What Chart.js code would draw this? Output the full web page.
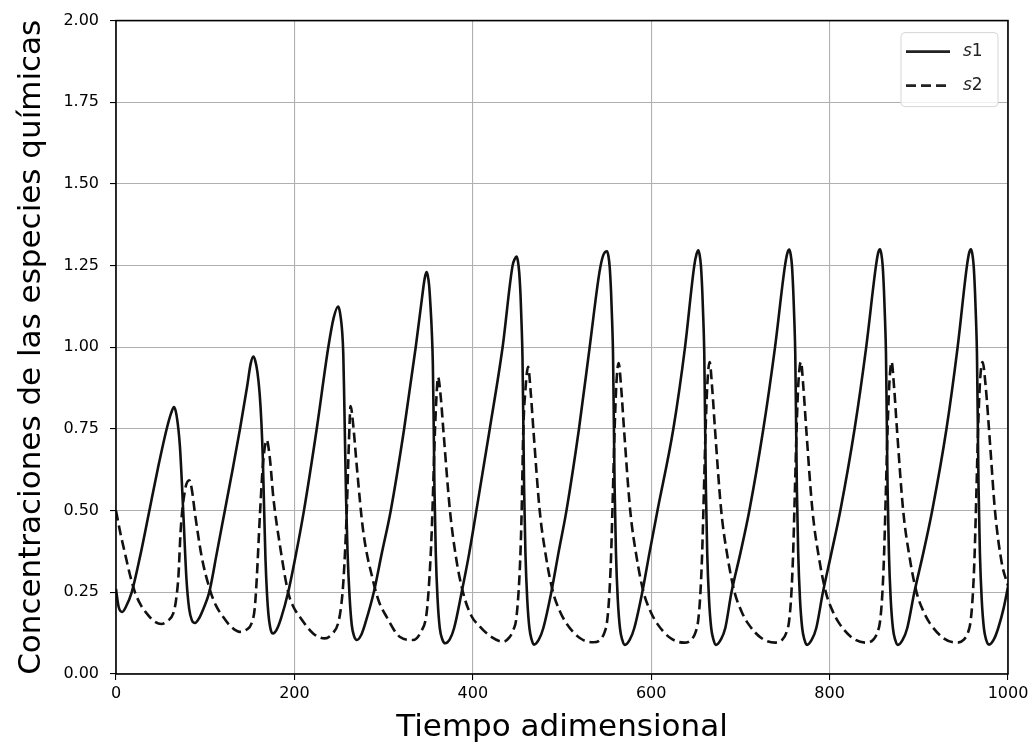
<!DOCTYPE html>
<html>
<head>
<meta charset="utf-8">
<script src="https://cdn.jsdelivr.net/npm/chart.js@4"></script>
<style>
  html, body { margin: 0; padding: 0; background: #fff; }
  #wrap { width: 1035px; height: 747px; }
</style>
</head>
<body>
<div id="wrap"><canvas id="myChart"></canvas></div>
<script>
// s1 (solid) - tiempo / concentracion, one row per oscillation
const s1T = [0, 3, 7, 11, 17.6, 27, 37.4, 47, 56.8, 62, 65, 68, 71.7, 75.5, 79, 82, 85, 88.6,
  93, 98, 104.5, 113, 122, 131, 139, 147, 151, 154, 156, 158.5, 161, 163, 164.6, 166.2, 167.6, 169.2, 171, 173.5, 176,
  180, 185, 193, 202, 210.7, 225, 238, 244, 249, 250.5, 252, 253.5, 254.8, 255.8, 256.8, 258, 259.6, 261.8, 264.3, 267, 270,
  275, 280, 289, 298, 308, 323, 336, 343, 346, 348, 349.5, 351, 352.5, 354, 355.2, 356, 357, 358.5, 360.5, 363, 366, 369,
  374, 379, 387.5, 396, 404, 419, 433.4, 444.6, 447, 449, 450.5, 452, 453.5, 454.7, 455.7, 456.5, 457.5, 459, 461, 463.5, 466, 468.5,
  474, 479, 488, 496, 505, 519, 531, 542, 546, 550.5, 552, 553.5, 555, 556.2, 557.2, 558, 559, 560.5, 562.5, 565, 567.5, 570.5,
  576, 581, 590, 598, 607, 624.8, 637.9, 648.3, 650.8, 652.8, 654.3, 655.8, 657.3, 658.5, 659.5, 660.3, 661.3, 662.8, 664.8, 667.3, 669.8, 672.6,
  678, 683, 690, 700, 710, 725.7, 738.8, 750, 752.8, 754.8, 756.3, 757.8, 759.3, 760.5, 761.5, 762.3, 763.3, 764.8, 766.8, 769.3, 771.8, 774.5,
  780, 785, 792.5, 802, 812, 828, 841, 852, 854.5, 856.5, 858, 859.5, 861, 862.2, 863.2, 864, 865, 866.5, 868.5, 871, 873.5, 876.5,
  882, 887, 895, 905, 915, 931, 943.5, 954, 956.5, 958.5, 960, 961.5, 963, 964.2, 965.2, 966, 967, 968.5, 970.5, 973, 975.5, 978.7,
  984, 989, 995, 1000];
const s1C = [0.26, 0.205, 0.19, 0.205, 0.25, 0.36, 0.5, 0.63, 0.75, 0.80, 0.817, 0.79, 0.695, 0.49, 0.29, 0.2, 0.165, 0.156,
  0.17, 0.2, 0.25, 0.37, 0.5, 0.63, 0.75, 0.88, 0.95, 0.972, 0.96, 0.925, 0.86, 0.77, 0.66, 0.49, 0.35, 0.25, 0.18, 0.135, 0.124,
  0.135, 0.17, 0.25, 0.37, 0.5, 0.75, 1.0, 1.09, 1.125, 1.115, 1.09, 1.05, 0.98, 0.85, 0.7, 0.53, 0.37, 0.24, 0.15, 0.115, 0.104,
  0.12, 0.16, 0.25, 0.37, 0.5, 0.75, 1.0, 1.15, 1.21, 1.23, 1.22, 1.19, 1.13, 1.05, 0.95, 0.8, 0.57, 0.37, 0.23, 0.14, 0.105, 0.094,
  0.105, 0.14, 0.25, 0.37, 0.5, 0.75, 1.0, 1.25, 1.27, 1.278, 1.265, 1.23, 1.16, 1.07, 0.97, 0.8, 0.57, 0.37, 0.23, 0.14, 0.105, 0.09,
  0.105, 0.14, 0.25, 0.37, 0.5, 0.75, 1.0, 1.23, 1.28, 1.294, 1.28, 1.245, 1.17, 1.08, 0.98, 0.8, 0.57, 0.37, 0.23, 0.14, 0.105, 0.089,
  0.105, 0.14, 0.25, 0.37, 0.5, 0.75, 1.0, 1.25, 1.285, 1.297, 1.283, 1.248, 1.17, 1.08, 0.98, 0.8, 0.57, 0.37, 0.23, 0.14, 0.105, 0.089,
  0.105, 0.14, 0.25, 0.37, 0.5, 0.75, 1.0, 1.25, 1.29, 1.299, 1.285, 1.25, 1.17, 1.08, 0.98, 0.8, 0.57, 0.37, 0.23, 0.14, 0.105, 0.089,
  0.105, 0.14, 0.25, 0.37, 0.5, 0.75, 1.0, 1.25, 1.29, 1.3, 1.286, 1.25, 1.17, 1.08, 0.98, 0.8, 0.57, 0.37, 0.23, 0.14, 0.105, 0.089,
  0.105, 0.14, 0.25, 0.37, 0.5, 0.75, 1.0, 1.25, 1.29, 1.3, 1.286, 1.25, 1.17, 1.08, 0.98, 0.8, 0.57, 0.37, 0.23, 0.14, 0.105, 0.09,
  0.105, 0.14, 0.2, 0.267];

// s2 (dashed)
const s2T = [0, 5, 10, 16, 21.3, 28, 34.3, 42, 51, 58, 64.3, 67.5, 70, 72.5, 77.4, 82.2,
  85, 88.6, 96, 105.4, 112, 120, 129, 139, 146, 152, 155.5, 157.7, 161.4, 165, 169,
  172.5, 176.4, 184, 193, 199, 206, 221, 234, 243, 249, 252.5, 255, 258.6, 261, 263,
  266, 270, 277, 288.5, 295, 303.4, 318, 333, 342, 348.2, 351.5, 354, 357.6, 359.5, 361,
  364, 367, 374.4, 381, 389, 398, 408, 420, 434, 441, 445.4, 449, 453, 454.8, 456.6, 459, 462,
  465, 468, 475, 482, 490, 498, 505, 520, 535, 543, 548, 550.5, 553, 555, 557, 559, 561, 563.5,
  566.5, 569.5, 576.5, 583.5, 591.5, 599.5, 606.5, 621.5, 637, 645, 650, 652.5, 655, 657, 659, 661, 663, 665.5,
  668.5, 671.5, 678.5, 685.5, 693.5, 701.5, 708.5, 723.5, 739, 747, 752, 754.5, 757, 759, 761, 763, 765, 767.8,
  770.8, 773.8, 780.8, 787.8, 795.8, 803.8, 810.8, 825.8, 841, 849, 854, 856.5, 859, 861, 863, 865, 867, 869.5,
  872.5, 875.5, 882.5, 889.5, 897.5, 905.5, 912.5, 927.5, 942.5, 950.5, 955.5, 958, 960.5, 962.5, 964.5, 966.5, 968.5, 971.5,
  975, 980, 985.4, 993, 1000];
const s2C = [0.5, 0.43, 0.37, 0.3, 0.25, 0.21, 0.186, 0.163, 0.153, 0.163, 0.186, 0.23, 0.3, 0.44, 0.563, 0.593,
  0.565, 0.49, 0.36, 0.257, 0.21, 0.175, 0.145, 0.129, 0.135, 0.155, 0.2, 0.287, 0.49, 0.65, 0.716,
  0.66, 0.54, 0.39, 0.25, 0.205, 0.175, 0.124, 0.109, 0.125, 0.155, 0.21, 0.287, 0.49, 0.7, 0.82,
  0.76, 0.634, 0.44, 0.282, 0.22, 0.175, 0.114, 0.104, 0.13, 0.186, 0.3, 0.44, 0.746, 0.86, 0.909,
  0.85, 0.746, 0.5, 0.36, 0.25, 0.18, 0.145, 0.115, 0.099, 0.112, 0.135, 0.175, 0.34, 0.5, 0.746, 0.87, 0.94,
  0.86, 0.745, 0.5, 0.36, 0.25, 0.19, 0.155, 0.11, 0.097, 0.105, 0.13, 0.16, 0.24, 0.36, 0.55, 0.75, 0.89, 0.952,
  0.87, 0.75, 0.5, 0.36, 0.25, 0.19, 0.155, 0.11, 0.096, 0.105, 0.13, 0.16, 0.24, 0.36, 0.55, 0.75, 0.89, 0.955,
  0.87, 0.75, 0.5, 0.36, 0.25, 0.19, 0.155, 0.11, 0.096, 0.105, 0.13, 0.16, 0.24, 0.36, 0.55, 0.75, 0.89, 0.955,
  0.87, 0.75, 0.5, 0.36, 0.25, 0.19, 0.155, 0.11, 0.096, 0.105, 0.13, 0.16, 0.24, 0.36, 0.55, 0.75, 0.89, 0.955,
  0.87, 0.75, 0.5, 0.36, 0.25, 0.19, 0.155, 0.11, 0.096, 0.105, 0.13, 0.16, 0.24, 0.36, 0.55, 0.75, 0.89, 0.955,
  0.88, 0.7, 0.5, 0.34, 0.27];

const xTicks = [0, 200, 400, 600, 800, 1000];
const yTicks = [0, 0.25, 0.5, 0.75, 1.0, 1.25, 1.5, 1.75, 2.0];
const seriesNames = ['s1', 's2'];

const toPoints = (xs, ys) => xs.map((x, i) => ({ x: x, y: ys[i] }));

// frame round the axes + legend box in the upper right corner
const frameAndLegend = {
    id: 'frameAndLegend',
    afterDraw(chart) {
        const { ctx, chartArea: a } = chart;
        ctx.save();
        ctx.strokeStyle = '#000';
        ctx.lineWidth = 1.6;
        ctx.setLineDash([]);
        ctx.strokeRect(a.left, a.top, a.right - a.left, a.bottom - a.top);

        const bw = 97, bh = 74;
        const bx = a.right - 107, by = a.top + 12;
        ctx.beginPath();
        ctx.roundRect(bx, by, bw, bh, 4);
        ctx.fillStyle = 'rgba(255,255,255,0.8)';
        ctx.fill();
        ctx.strokeStyle = '#d6d6d6';
        ctx.lineWidth = 1;
        ctx.stroke();

        chart.data.datasets.forEach((ds, i) => {
            const y = by + 19 + i * 34;
            ctx.strokeStyle = '#222';
            ctx.lineWidth = 2.6;
            ctx.setLineDash(ds.borderDash || []);
            ctx.beginPath();
            ctx.moveTo(bx + 5, y);
            ctx.lineTo(bx + 49, y);
            ctx.stroke();
            ctx.setLineDash([]);
            ctx.fillStyle = '#222';
            ctx.textBaseline = 'middle';
            ctx.textAlign = 'left';
            const name = seriesNames[i];
            ctx.font = 'italic 17px "DejaVu Sans"';
            ctx.fillText(name[0], bx + 62, y);
            const w = ctx.measureText(name[0]).width;
            ctx.font = '17px "DejaVu Sans"';
            ctx.fillText(name.slice(1), bx + 62 + w, y);
        });
        ctx.restore();
    }
};

const ctx = document.getElementById('myChart').getContext('2d');
const myChart = new Chart(ctx, {
    type: 'line',
    data: {
        datasets: [{
            label: 's1',
            data: toPoints(s1T, s1C),
            borderColor: '#111',
            borderWidth: 2.6,
            pointRadius: 0,
            cubicInterpolationMode: 'monotone',
            fill: false
        }, {
            label: 's2',
            data: toPoints(s2T, s2C),
            borderColor: '#111',
            borderWidth: 2.6,
            borderDash: [10, 5],
            pointRadius: 0,
            cubicInterpolationMode: 'monotone',
            fill: false
        }]
    },
    options: {
        responsive: true,
        maintainAspectRatio: false,
        animation: false,
        layout: { padding: { top: 20, right: 27, left: 0, bottom: 0 } },
        plugins: {
            legend: { display: false },
            tooltip: { enabled: false }
        },
        scales: {
            x: {
                type: 'linear',
                min: 0,
                max: 1000,
                afterBuildTicks: (scale) => { scale.ticks = xTicks.map(v => ({ value: v })); },
                afterFit: (scale) => { scale.height = 73; },
                ticks: {
                    color: '#000',
                    padding: 4,
                    maxRotation: 0,
                    font: { family: 'DejaVu Sans', size: 16 },
                    callback: (v) => String(v)
                },
                grid: { color: '#b0b0b0', lineWidth: 1.1, tickColor: '#000', tickLength: 6 },
                border: { display: false },
                title: {
                    display: true,
                    text: 'Tiempo adimensional',
                    color: '#000',
                    font: { family: 'DejaVu Sans', size: 31 },
                    padding: { top: 8, bottom: 0 }
                }
            },
            y: {
                min: 0,
                max: 2,
                afterBuildTicks: (scale) => { scale.ticks = yTicks.map(v => ({ value: v })); },
                afterFit: (scale) => { scale.width = 116; },
                ticks: {
                    color: '#000',
                    padding: 11,
                    font: { family: 'DejaVu Sans', size: 16 },
                    callback: (v) => Number(v).toFixed(2)
                },
                grid: { color: '#b0b0b0', lineWidth: 1.1, tickColor: '#000', tickLength: 6 },
                border: { display: false },
                title: {
                    display: true,
                    text: 'Concentraciones de las especies químicas',
                    color: '#000',
                    font: { family: 'DejaVu Sans', size: 31 },
                    padding: { top: 13, bottom: 0 }
                }
            }
        }
    },
    plugins: [frameAndLegend]
});
</script>
</body>
</html>
